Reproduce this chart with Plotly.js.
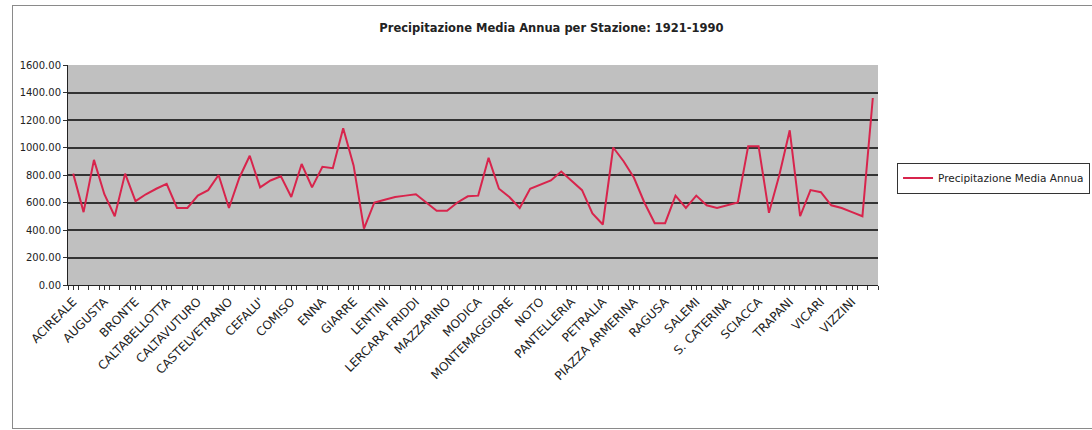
<!DOCTYPE html>
<html>
<head>
<meta charset="utf-8">
<script src="https://cdn.plot.ly/plotly-3.0.1.min.js"></script>
<style>
html,body{margin:0;padding:0;background:#fff;}
#wrap{position:relative;width:1092px;height:430px;overflow:hidden;}
#chart{position:absolute;left:0;top:0;width:1092px;height:430px;}
#frame{position:absolute;left:12px;top:5px;width:1090px;height:422px;border:1px solid #8a8a8a;pointer-events:none;}
</style>
</head>
<body>
<div id="wrap"><div id="chart"></div><div id="frame"></div></div>
<script>
// Stations shown as tick labels (every third station on the axis)
const tickLabels = ["ACIREALE","AUGUSTA","BRONTE","CALTABELLOTTA","CALTAVUTURO","CASTELVETRANO",
  "CEFALU'","COMISO","ENNA","GIARRE","LENTINI","LERCARA FRIDDI","MAZZARINO","MODICA",
  "MONTEMAGGIORE","NOTO","PANTELLERIA","PETRALIA","PIAZZA ARMERINA","RAGUSA","SALEMI",
  "S. CATERINA","SCIACCA","TRAPANI","VICARI","VIZZINI"];
const labelStep = 3;
// Mean annual precipitation (mm) per station, in axis order
const precip = [810,530,910,660,500,810,610,660,700,735,
  560,560,650,690,800,560,780,940,710,760,
  790,640,880,710,860,850,1140,870,410,600,
  620,640,650,660,600,540,540,600,645,650,
  925,700,640,560,700,730,760,825,760,690,
  520,440,1000,900,780,600,450,450,650,560,
  650,580,560,580,600,1010,1010,525,800,1125,
  500,690,675,580,560,530,500,1360];
const seriesName = "Precipitazione Media Annua";
const chartTitle = "Precipitazione Media Annua per Stazione: 1921-1990";

const xIdx = precip.map((_, i) => i);
const tickVals = tickLabels.map((_, k) => k * labelStep);

const trace = {
  x: xIdx, y: precip, type: "scatter", mode: "lines", name: seriesName,
  line: {color: "#d8244c", width: 2}
};

const layout = {
  width: 1092, height: 430,
  margin: {l: 68, r: 214, t: 65, b: 145, autoexpand: false},
  paper_bgcolor: "rgba(0,0,0,0)",
  plot_bgcolor: "#c0c0c0",
  font: {family: "DejaVu Sans, Verdana, sans-serif", size: 10, color: "#222"},
  title: {text: "<b>" + chartTitle + "</b>", x: 0.505, xanchor: "center", y: 0.935, yanchor: "middle",
    font: {size: 11.5, color: "#222"}},
  showlegend: true,
  legend: {x: 1.0235, y: 0.486, xanchor: "left", yanchor: "middle",
    bordercolor: "#333", borderwidth: 1, bgcolor: "#fff",
    font: {size: 10.5, color: "#222"}, itemwidth: 30},
  xaxis: {
    range: [-0.5, precip.length - 0.5],
    tickmode: "array", tickvals: tickVals, ticktext: tickLabels,
    tickangle: -45, ticks: "outside", ticklen: 4, tickcolor: "#333",
    showgrid: false, zeroline: false, automargin: false,
    showline: true, linecolor: "#222", linewidth: 1,
    minor: {tickmode: "linear", tick0: 0.5, dtick: 1, ticks: "outside", ticklen: 4, tickcolor: "#333", showgrid: false},
    tickfont: {size: 12, color: "#222"}
  },
  yaxis: {
    range: [0, 1600], dtick: 200, tick0: 0,
    tickformat: ".2f", automargin: false,
    ticks: "outside", ticklen: 4, tickcolor: "#333",
    showgrid: true, gridcolor: "#333", gridwidth: 2,
    zeroline: false, showline: true, linecolor: "#222", linewidth: 1,
    tickfont: {size: 10, color: "#222"}
  }
};

Plotly.newPlot("chart", [trace], layout, {displayModeBar: false, staticPlot: true});
</script>
</body>
</html>
